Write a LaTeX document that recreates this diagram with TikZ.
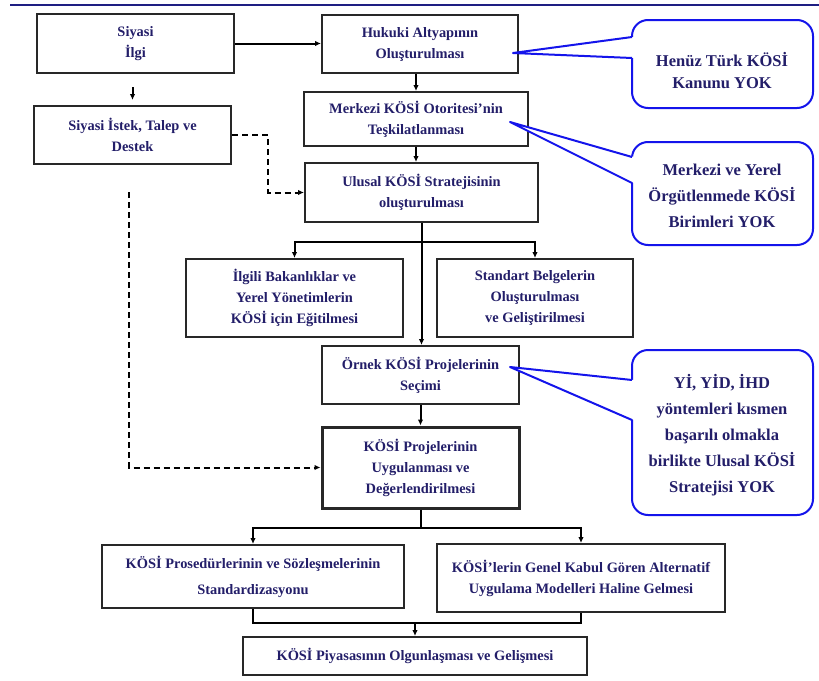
\documentclass[tikz,border=0pt]{standalone}
\usepackage{fontspec}
\setmainfont{Liberation Serif}
\usetikzlibrary{arrows.meta}
\definecolor{txt}{RGB}{35,30,105}
\definecolor{cblue}{RGB}{20,20,235}
\definecolor{edge}{RGB}{40,40,40}
\definecolor{topline}{RGB}{30,30,130}
\begin{document}
\begin{tikzpicture}[x=1pt,y=-1pt,
  box/.style={draw=edge, line width=2pt, fill=white, inner sep=0pt, align=center,
    font=\bfseries\fontsize{14.4}{21}\selectfont, text=txt},
  plain/.style={draw=black, line width=2pt},
  conn/.style={plain, -{Latex[length=6pt,width=5.5pt]}},
  dconn/.style={conn, dash pattern=on 6pt off 4pt},
  callout/.style={draw=cblue, line width=2pt, fill=white, rounded corners=16pt},
  ptr/.style={draw=cblue, line width=2pt, line join=round},
  ctext/.style={align=center, inner sep=0pt, text=txt,
    font=\bfseries\fontsize{16.5}{26}\selectfont}]
\useasboundingbox (0,0) rectangle (819,680);
\draw[topline, line width=1.8pt] (10,5) -- (819,5);

% boxes
\node[box, minimum width=197pt, minimum height=59pt] (ilgi) at (135.5,43.5) {Siyasi\\İlgi};
\node[box, minimum width=196pt, minimum height=58pt] (hukuki) at (420,44) {Hukuki Altyapının\\Oluşturulması};
\node[box, minimum width=197pt, minimum height=58pt] (istek) at (132.5,135) {Siyasi İstek, Talep ve\\Destek};
\node[box, minimum width=224pt, minimum height=54pt] (merkezi) at (416,119) {Merkezi KÖSİ Otoritesi'nin\\Teşkilatlanması};
\node[box, minimum width=233pt, minimum height=59pt] (ulusal) at (421.5,192.5) {Ulusal KÖSİ Stratejisinin\\oluşturulması};
\node[box, minimum width=217pt, minimum height=78pt] (ilgili) at (294.5,298) {İlgili Bakanlıklar ve\\Yerel Yönetimlerin\\KÖSİ için Eğitilmesi};
\node[box, minimum width=196pt, minimum height=78pt] (standart) at (535,298) {Standart Belgelerin\\Oluşturulması\\ve Geliştirilmesi};
\node[box, minimum width=197pt, minimum height=58pt] (ornek) at (420.5,375) {Örnek KÖSİ Projelerinin\\Seçimi};
\node[box, line width=3pt, minimum width=197pt, minimum height=81pt] (uyg) at (420.5,467.5) {KÖSİ Projelerinin\\Uygulanması ve\\Değerlendirilmesi};
\node[box, minimum width=302pt, minimum height=63pt, font=\bfseries\fontsize{14.4}{26}\selectfont] (prosedur) at (253,576.5) {KÖSİ Prosedürlerinin ve Sözleşmelerinin\\Standardizasyonu};
\node[box, minimum width=288pt, minimum height=68pt] (genel) at (581,578) {KÖSİ'lerin Genel Kabul Gören Alternatif\\Uygulama Modelleri Haline Gelmesi};
\node[box, minimum width=344pt, minimum height=38pt] (piyasa) at (415,656) {KÖSİ Piyasasının Olgunlaşması ve Gelişmesi};

% connectors
\draw[conn] (ilgi.east) -- (ilgi.east -| hukuki.west);
\draw[conn, shorten <=13pt, shorten >=5pt] (istek.north |- ilgi.south) -- (istek.north);
\draw[conn] (merkezi.north |- hukuki.south) -- (merkezi.north);
\draw[conn] (merkezi.south) -- (merkezi.south |- ulusal.north);
\draw[dconn] (istek.east) -- ++(36,0) |- (ulusal.west);

\path (ulusal.south) ++(0,19) coordinate (s1);
\draw[conn] (ulusal.south) -- (ulusal.south |- ornek.north);
\draw[conn] (s1) -| (ilgili.north);
\draw[conn] (s1) -| (standart.north);

\draw[conn] (ornek.south) -- (uyg.north);
\path (uyg.south) ++(0,18) coordinate (s2);
\draw[plain] (uyg.south) -- (s2);
\draw[conn] (s2) -| (prosedur.north);
\draw[conn] (s2) -| (genel.north);

\path (prosedur.south) ++(0,14) coordinate (m1);
\draw[plain] (prosedur.south) -- (m1) -| (genel.south);
\draw[conn] (piyasa.north |- m1) -- (piyasa.north);

\coordinate (d0) at (129,192);
\draw[dconn] (d0) |- (uyg.west);

% callouts
\draw[callout] (632,20) rectangle (813,108);
\coordinate (t1) at (513,53);
\fill[white] (t1) -- (634,37) -- (634,58) -- cycle;
\draw[ptr] (632,37) -- (t1) -- (632,58);
\node[ctext, font=\bfseries\fontsize{16.5}{22}\selectfont] (c1) at (722,71) {Henüz Türk KÖSİ\\Kanunu YOK};

\draw[callout] (632,142) rectangle (813,245);
\coordinate (t2) at (510,122);
\fill[white] (t2) -- (634,157) -- (634,183) -- cycle;
\draw[ptr] (632,157) -- (t2) -- (632,183);
\node[ctext] (c2) at (722,196) {Merkezi ve Yerel\\Örgütlenmede KÖSİ\\Birimleri YOK};

\draw[callout] (632,350) rectangle (813,515);
\coordinate (t3) at (510,367);
\fill[white] (t3) -- (634,380) -- (634,420) -- cycle;
\draw[ptr] (632,380) -- (t3) -- (632,420);
\node[ctext] (c3) at (722,435.5) {Yİ, YİD, İHD\\yöntemleri kısmen\\başarılı olmakla\\birlikte Ulusal KÖSİ\\Stratejisi YOK};
\end{tikzpicture}
\end{document}
